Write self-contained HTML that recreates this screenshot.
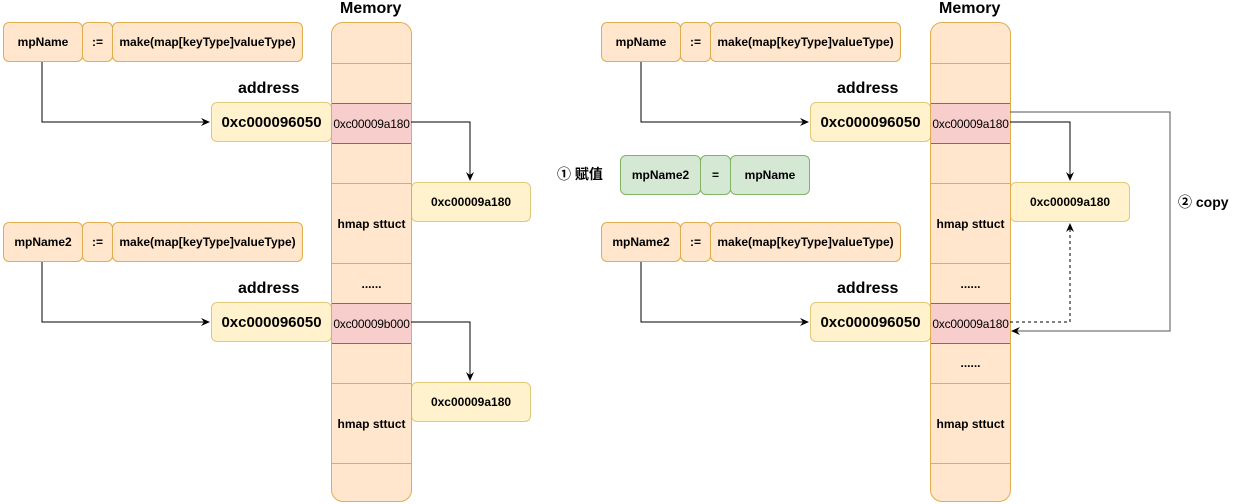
<!DOCTYPE html>
<html><head><meta charset="utf-8"><style>
body{margin:0;width:1234px;height:504px;background:#fff;position:relative;overflow:hidden;font-family:"Liberation Sans","Noto Sans CJK SC",sans-serif;font-weight:bold;}
.b{position:absolute;box-sizing:border-box;display:flex;align-items:center;justify-content:center;font-size:12px;color:#000;}
.o{background:#ffe6cc;border:1px solid #e0ad4f;border-radius:6px;}
.y{background:#fff2cc;border:1px solid #e0c878;border-radius:6px;}
.g{background:#d5e8d4;border:1px solid #82b366;border-radius:6px;}
.mem{position:absolute;box-sizing:border-box;background:#ffe6cc;border:1px solid #e0ad4f;border-radius:12px;overflow:hidden;}
.row{position:absolute;left:0;right:0;box-sizing:border-box;border-top:1px solid #e0ad4f;display:flex;align-items:center;justify-content:center;font-size:12px;}
.pk{background:#f8cecc;border:1px solid #b85450;left:-1px;right:-1px;font-size:12px;font-weight:normal;letter-spacing:-0.2px;}
.t{position:absolute;font-size:16px;}
</style></head><body>
<svg width="1234" height="504" style="position:absolute;left:0;top:0;z-index:5" xmlns="http://www.w3.org/2000/svg">
<defs><marker id="a" markerWidth="10" markerHeight="10" refX="8" refY="5" orient="auto" markerUnits="userSpaceOnUse"><path d="M0,1 L9,5 L0,9 L3,5z" fill="#000"/></marker></defs>
<g fill="none" stroke="#000" stroke-width="1">
<path d="M42,62 V122 H209" marker-end="url(#a)"/>
<path d="M42,262 V322 H209" marker-end="url(#a)"/>
<path d="M411,122 H470 V180" marker-end="url(#a)"/>
<path d="M411,322 H470 V380" marker-end="url(#a)"/>
<path d="M641,62 V122 H808" marker-end="url(#a)"/>
<path d="M641,262 V322 H808" marker-end="url(#a)"/>
<path d="M1010,122 H1070 V180" marker-end="url(#a)"/>
<path d="M1010,112 H1170 V331 H1012" stroke="#555" marker-end="url(#a)"/>
<path d="M1010,322 H1070 V224" stroke-dasharray="3,3" marker-end="url(#a)"/>
</g></svg>
<div class="t" style="left:340px;top:0px">Memory</div>
<div class="t" style="left:939px;top:0px">Memory</div>
<div class="b o" style="left:3px;top:22px;width:80px;height:40px">mpName</div>
<div class="b o" style="left:82px;top:22px;width:31px;height:40px">:=</div>
<div class="b o" style="left:112px;top:22px;width:191px;height:40px">make(map[keyType]valueType)</div>
<div class="b o" style="left:3px;top:222px;width:80px;height:40px">mpName2</div>
<div class="b o" style="left:82px;top:222px;width:31px;height:40px">:=</div>
<div class="b o" style="left:112px;top:222px;width:191px;height:40px">make(map[keyType]valueType)</div>
<div class="t" style="left:238px;top:80px">address</div>
<div class="t" style="left:238px;top:280px">address</div>
<div class="b y" style="left:211px;top:102px;width:121px;height:40px;font-size:15px">0xc000096050</div>
<div class="b y" style="left:211px;top:302px;width:121px;height:40px;font-size:15px">0xc000096050</div>
<div class="b y" style="left:411px;top:182px;width:120px;height:40px">0xc00009a180</div>
<div class="b y" style="left:411px;top:382px;width:120px;height:40px">0xc00009a180</div>
<div class="mem" style="left:331px;top:22px;width:81px;height:480px">
<div class="row" style="top:40px;height:40px"></div>
<div class="row pk" style="top:80px;height:41px">0xc00009a180</div>
<div class="row" style="top:120px;height:40px;border-top:none"></div>
<div class="row" style="top:160px;height:80px">hmap sttuct</div>
<div class="row" style="top:240px;height:40px">......</div>
<div class="row pk" style="top:280px;height:41px">0xc00009b000</div>
<div class="row" style="top:360px;height:80px;border-top:1px solid #e0ad4f">hmap sttuct</div>
<div class="row" style="top:440px;height:40px"></div>
</div>
<div class="b o" style="left:601px;top:22px;width:80px;height:40px">mpName</div>
<div class="b o" style="left:680px;top:22px;width:31px;height:40px">:=</div>
<div class="b o" style="left:710px;top:22px;width:191px;height:40px">make(map[keyType]valueType)</div>
<div class="b o" style="left:601px;top:222px;width:80px;height:40px">mpName2</div>
<div class="b o" style="left:680px;top:222px;width:31px;height:40px">:=</div>
<div class="b o" style="left:710px;top:222px;width:191px;height:40px">make(map[keyType]valueType)</div>
<div class="b g" style="left:620px;top:155px;width:81px;height:40px">mpName2</div>
<div class="b g" style="left:700px;top:155px;width:31px;height:40px">=</div>
<div class="b g" style="left:730px;top:155px;width:80px;height:40px">mpName</div>
<div class="t" style="left:557px;top:164px;font-size:14px">① 赋值</div>
<div class="t" style="left:1178px;top:192px;font-size:14px">② copy</div>
<div class="t" style="left:837px;top:80px">address</div>
<div class="t" style="left:837px;top:280px">address</div>
<div class="b y" style="left:810px;top:102px;width:121px;height:40px;font-size:15px">0xc000096050</div>
<div class="b y" style="left:810px;top:302px;width:121px;height:40px;font-size:15px">0xc000096050</div>
<div class="b y" style="left:1010px;top:182px;width:120px;height:40px">0xc00009a180</div>
<div class="mem" style="left:930px;top:22px;width:81px;height:480px">
<div class="row" style="top:40px;height:40px"></div>
<div class="row pk" style="top:80px;height:41px">0xc00009a180</div>
<div class="row" style="top:120px;height:40px;border-top:none"></div>
<div class="row" style="top:160px;height:80px">hmap sttuct</div>
<div class="row" style="top:240px;height:40px">......</div>
<div class="row pk" style="top:280px;height:41px">0xc00009a180</div>
<div class="row" style="top:320px;height:40px;border-top:none">......</div>
<div class="row" style="top:360px;height:80px">hmap sttuct</div>
<div class="row" style="top:440px;height:40px"></div>
</div>
</body></html>
